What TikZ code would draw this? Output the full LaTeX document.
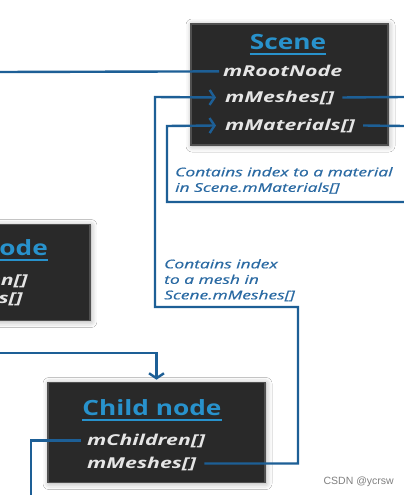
\documentclass[tikz,border=0pt]{standalone}
\usepackage{fontspec}
\setmainfont{Open Sans}[FakeStretch=1.25]
\newfontfamily\fieldfont{Open Sans}[FakeStretch=1.42]
\newfontfamily\notefont{Open Sans}[FakeStretch=1.45,FakeBold=0.6]
\newfontfamily\wmfont{Liberation Sans}
\usetikzlibrary{arrows.meta,shadows.blur}
\definecolor{boxfill}{HTML}{292929}
\definecolor{boxline}{HTML}{505050}
\definecolor{linkblue}{HTML}{1D5F96}
\definecolor{titleblue}{HTML}{2892CC}
\definecolor{noteblue}{HTML}{2A6AA3}

\tikzset{
  objbox/.style={draw=boxline,line width=1.6pt,fill=boxfill,
    blur shadow={shadow xshift=1pt,shadow yshift=-1pt,shadow blur radius=6pt,shadow opacity=35}},
  boxtitle/.style={anchor=base,inner sep=0pt,text=titleblue,font=\bfseries\fontsize{21}{23}\selectfont},
  field/.style={anchor=base west,inner sep=0pt,text=white!90!black,font=\fieldfont\bfseries\itshape\fontsize{15}{16}\selectfont},
  note/.style={anchor=north west,inner sep=0pt,align=left,text=noteblue,font=\notefont\itshape\fontsize{12}{15.5}\selectfont},
  link/.style={draw=linkblue,line width=2.4pt},
  ref/.style={link,-{Straight Barb[length=5pt,width=15pt,line width=2.4pt]}},
  uline/.style={draw=titleblue,line width=1.6pt}
}

\begin{document}
\begin{tikzpicture}[x=1pt,y=-1pt]
\useasboundingbox (0,0) rectangle (404,495);
\clip (0,0) rectangle (404,495);
\fill[white] (0,0) rectangle (404,495);
% boxes
\node[objbox,minimum width=197pt,minimum height=121pt] (scene) at (289.5,84.5) {};
\node[objbox,minimum width=217pt,minimum height=100pt] (child) at (156.5,432.5) {};
\node[objbox,minimum width=217pt,minimum height=96pt] (root) at (-18.5,272.5) {};
% titles
\node[boxtitle] (stitle) at (288,49) {Scene};
\draw[uline] ([yshift=-5pt]stitle.base west) -- ([yshift=-5pt]stitle.base east);
\node[boxtitle] (ctitle) at (152,415) {Child node};
\draw[uline] ([yshift=-5pt]ctitle.base west) -- ([yshift=-5pt]ctitle.base east);
\node[boxtitle,anchor=base east] (rtitle) at (48,255) {ode};
\draw[uline] ([yshift=-5pt]rtitle.base west) -- ([yshift=-5pt]rtitle.base east);
% fields
\node[field] (sroot) at (223,77) {mRootNode};
\node[field] (smesh) at (225,102) {mMeshes[]};
\node[field] (smat) at (225,130) {mMaterials[]};
\node[field] (cchild) at (87,445) {mChildren[]};
\node[field] (cmesh) at (87,468) {mMeshes[]};
\node[field,anchor=base east] (rchild) at (28,285) {en[]};
\node[field,anchor=base east] (rmesh) at (23,303) {s[]};
% notes
\node[note] (matnote) at (175,167) {Contains index to a material\\in Scene.mMaterials[]};
\node[note] (meshnote) at (164,259) {Contains index\\to a mesh in\\Scene.mMeshes[]};
% links
\coordinate (rootin) at (0,72);
\coordinate (meshout) at (404,97);
\coordinate (matout) at (404,126);
\coordinate (matin) at (404,202);
\coordinate (childin) at (0,353);
\coordinate (childout) at (31,495);
\draw[link] (rootin) -- ([xshift=-4pt]sroot.west);
\draw[link] ([xshift=8pt]smesh.east) -- (meshout);
\draw[link] ([xshift=8pt]smat.east) -- (matout);
\draw[ref] (matin) -| (167,126) -- ([xshift=-9pt]smat.west);
\draw[ref] ([xshift=8pt]cmesh.east) -| (298,307) -| (155,97) -- ([xshift=-9pt]smesh.west);
\draw[ref] (childin) -| ([yshift=2pt]child.north);
\draw[link] ([xshift=-6pt]cchild.west) -| (childout);
% watermark
\node[anchor=base east,inner sep=0pt,text=black!50,font=\wmfont\fontsize{10.5}{12}\selectfont] (wm) at (394,484) {CSDN @ycrsw};
\end{tikzpicture}
\end{document}
